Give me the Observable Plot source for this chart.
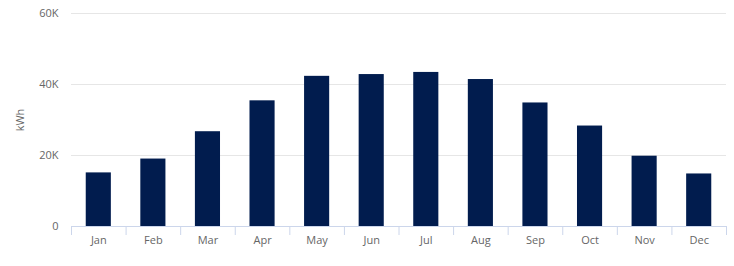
<!DOCTYPE html>
<html>
<head>
<meta charset="utf-8">
<script src="https://cdn.jsdelivr.net/npm/d3@7"></script>
<script src="https://cdn.jsdelivr.net/npm/@observablehq/plot@0.6"></script>
<style>
  html, body { margin: 0; padding: 0; background: #fff; }
</style>
</head>
<body>
<div id="chart"></div>
<script>
const months = ["Jan", "Feb", "Mar", "Apr", "May", "Jun", "Jul", "Aug", "Sep", "Oct", "Nov", "Dec"];
const energy = [15100, 19000, 26700, 35400, 42300, 42800, 43400, 41400, 34800, 28300, 19800, 14800];
const yTicks = [0, 20000, 40000, 60000];
const yTickLabels = ["0", "20K", "40K", "60K"];
const yLabel = "kWh";

const data = months.map((m, i) => ({month: m, value: energy[i]}));

const W = 734, H = 266, mL = 71, mR = 8;
const step = (W - mL - mR) / months.length;

const chart = Plot.plot({
  width: W,
  height: H,
  marginTop: 13,
  marginBottom: 40,
  marginLeft: mL,
  marginRight: mR,
  style: {fontFamily: "'Open Sans', sans-serif", fontSize: "11px", color: "#666", background: "#fff"},
  x: {domain: months, paddingInner: 0.54, paddingOuter: 0.27, round: false},
  y: {domain: [0, 60000]},
  marks: [
    Plot.gridY(yTicks, {stroke: "#e6e6e6", strokeOpacity: 1}),
    Plot.barY(data, {x: "month", y: "value", fill: "#011c4e"}),
    Plot.ruleY([0], {stroke: "#ccd6eb"}),
    Plot.axisY(yTicks, {
      tickSize: 0, tickPadding: 13,
      tickFormat: d => yTickLabels[yTicks.indexOf(d)],
      label: yLabel, labelAnchor: "center", labelArrow: "none", labelOffset: 55
    }),
    Plot.axisX({tickSize: 0, tickPadding: 10, label: null}),
    Plot.axisX({tickSize: 9, tickFormat: () => "", dx: -step / 2, stroke: "#ccd6eb", label: null}),
    Plot.axisX({ticks: [months[months.length - 1]], tickSize: 9, tickFormat: () => "", dx: step / 2, stroke: "#ccd6eb", label: null})
  ]
});
document.getElementById("chart").append(chart);
</script>
</body>
</html>
